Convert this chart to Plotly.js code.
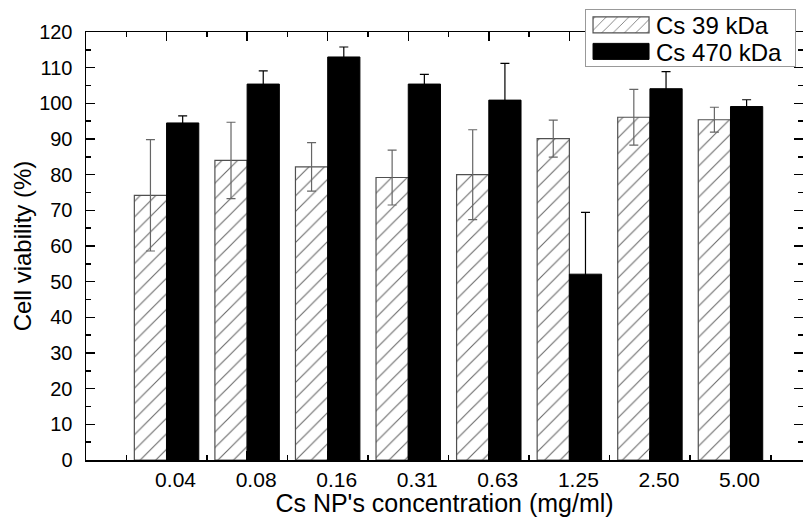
<!DOCTYPE html>
<html>
<head>
<meta charset="utf-8">
<script src="https://cdn.plot.ly/plotly-3.0.1.min.js"></script>
<style>
  html, body { margin: 0; padding: 0; overflow: hidden; background: #fff; }
  #chart { width: 806px; height: 517px; }
</style>
</head>
<body>
<div id="chart"></div>
<script>
// Concentration groups (mg/ml)
const concentrations = ['0.04', '0.08', '0.16', '0.31', '0.63', '1.25', '2.50', '5.00'];

// Cell viability (%) and standard deviation for each chitosan molecular weight
const cs39Viability = [74.2, 84.0, 82.2, 79.2, 80.0, 90.1, 96.1, 95.4];
const cs39Sd        = [15.6, 10.7, 6.8, 7.7, 12.6, 5.2, 7.8, 3.5];
const cs470Viability = [94.5, 105.4, 113.0, 105.4, 100.9, 52.1, 104.1, 99.1];
const cs470Sd        = [2.0, 3.7, 2.8, 2.7, 10.3, 17.3, 4.8, 1.9];

// Groups sit on every second unit of a numeric axis so that minor ticks fall between them
const groupPos = concentrations.map((_, i) => 2 * (i + 1));

const FONT = 'Liberation Sans, Arial, Helvetica, sans-serif';

const traces = [
  {
    type: 'bar',
    name: 'Cs 39 kDa',
    x: groupPos,
    y: cs39Viability,
    marker: {
      color: '#ffffff',
      line: { color: '#505050', width: 1.2 },
      pattern: { shape: '/', fgcolor: '#6a6a6a', bgcolor: '#ffffff', size: 11, solidity: 0.1 }
    },
    error_y: { type: 'data', array: cs39Sd, visible: true, color: '#666666', thickness: 1.2, width: 4.5 }
  },
  {
    type: 'bar',
    name: 'Cs 470 kDa',
    x: groupPos,
    y: cs470Viability,
    marker: { color: '#000000', line: { color: '#000000', width: 1 } },
    error_y: { type: 'data', array: cs470Sd, visible: true, color: '#000000', thickness: 1.2, width: 4.5 }
  }
];

const layout = {
  width: 806,
  height: 517,
  margin: { l: 86, r: 3, t: 32, b: 57 },
  paper_bgcolor: '#ffffff',
  plot_bgcolor: '#ffffff',
  font: { family: FONT, color: '#000000' },
  barmode: 'group',
  bargap: 0.2,
  bargroupgap: 0,
  showlegend: true,
  legend: {
    x: 0.696, y: 1.054, xanchor: 'left', yanchor: 'top',
    bgcolor: '#ffffff', bordercolor: '#999999', borderwidth: 1,
    font: { family: FONT, size: 24, color: '#000000' },
    itemwidth: 60, tracegroupgap: 0
  },
  xaxis: {
    range: [0, 17.8],
    tickmode: 'array',
    tickvals: groupPos,
    ticktext: concentrations,
    ticks: 'inside', ticklen: 9, tickwidth: 1.5, tickcolor: '#000',
    minor: { dtick: 1, tick0: 0, ticks: 'inside', ticklen: 5, tickwidth: 1.5, tickcolor: '#000' },
    showline: true, linecolor: '#000', linewidth: 1.5, mirror: 'ticks',
    showgrid: false, zeroline: false,
    ticklabelshift: 9,
    ticklabelstandoff: 0,
    tickfont: { family: FONT, size: 21, color: '#000' },
    title: { text: "Cs NP's concentration (mg/ml)", font: { family: FONT, size: 25, color: '#000' }, standoff: 6 }
  },
  yaxis: {
    range: [0, 120],
    dtick: 10, tick0: 0,
    ticks: 'inside', ticklen: 9, tickwidth: 1.5, tickcolor: '#000',
    minor: { dtick: 5, ticks: 'inside', ticklen: 5, tickwidth: 1.5, tickcolor: '#000' },
    showline: true, linecolor: '#000', linewidth: 1.5, mirror: 'ticks',
    showgrid: false, zeroline: false,
    ticklabelstandoff: 8,
    tickfont: { family: FONT, size: 20, color: '#000' },
    title: { text: 'Cell viability (%)', font: { family: FONT, size: 24, color: '#000' }, standoff: 0 }
  }
};

// Legend box geometry: long swatches, tight rows, fixed box size
const LEGEND_FIRST_ROW = 16;
const LEGEND_ROW_STEP = 26.5;
const LEGEND_BOX_W = 210;
const LEGEND_BOX_H = 57;

function tidyLegend(gd) {
  const legend = gd.querySelector('g.legend');
  if (!legend) return;
  legend.querySelectorAll('.legendpoints path').forEach(p => {
    p.setAttribute('d', 'M-28,8H28V-8H-28Z');
  });
  legend.querySelectorAll('g.traces').forEach((it, i) => {
    const m = /translate\(\s*([-\d.]+)[ ,]+([-\d.]+)\s*\)/.exec(it.getAttribute('transform') || '');
    const tx = m ? parseFloat(m[1]) : 1;
    it.setAttribute('transform', 'translate(' + tx + ',' + (LEGEND_FIRST_ROW + i * LEGEND_ROW_STEP) + ')');
  });
  legend.querySelectorAll('rect.bg').forEach(bg => {
    bg.setAttribute('height', String(LEGEND_BOX_H));
    bg.setAttribute('width', String(LEGEND_BOX_W));
  });
}

Plotly.newPlot('chart', traces, layout, { staticPlot: true, displayModeBar: false }).then(gd => {
  gd.on('plotly_afterplot', () => tidyLegend(gd));
  tidyLegend(gd);
});
</script>
</body>
</html>
